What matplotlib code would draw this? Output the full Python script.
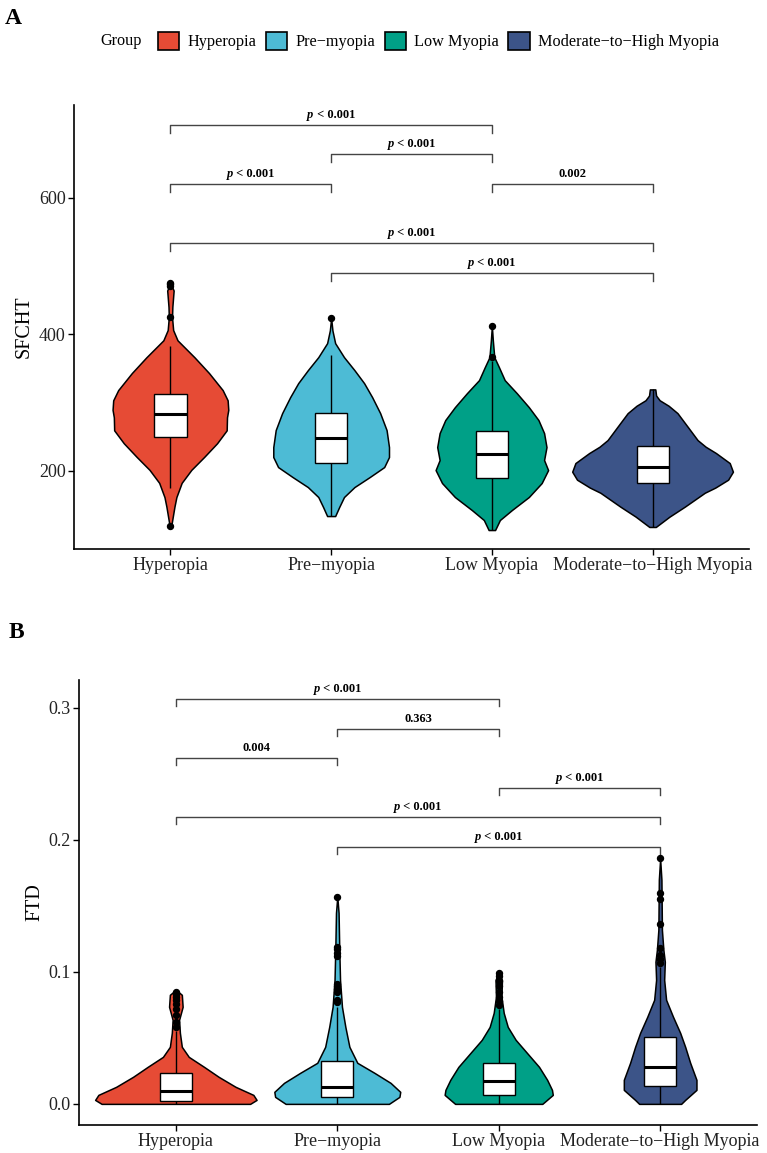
import matplotlib.pyplot as plt
from matplotlib.patches import Patch
from matplotlib.offsetbox import TextArea, HPacker, AnnotationBbox

plt.rcParams['font.family'] = ['Liberation Serif', 'DejaVu Serif']

groups = ['Hyperopia', 'Pre\u2212myopia', 'Low Myopia', 'Moderate\u2212to\u2212High Myopia']
colors = ['#E64B35', '#4DBBD5', '#00A087', '#3C5488']

# ---- panel A : SFCHT ----
# violin outlines: (value, half width in category units)
sfcht_violin_y = [
    [474.7, 464, 440, 425, 406, 391, 366, 343, 318, 303, 289, 278, 259, 240, 220, 201, 182, 161, 147, 123, 119],
    [423.4, 405.5, 386.8, 366.3, 347.2, 328.2, 307.7, 284.2, 259.3, 234.4, 219.8, 205.1, 190.5, 175.8, 161.2, 146.5, 133.3],
    [411.7, 391.2, 366.3, 351.6, 332.6, 313.5, 293, 274, 254.9, 234.4, 215.4, 200.7, 181.7, 161.2, 142.2, 127.5, 112.8],
    [319, 310, 303.1, 295, 284.2, 263.7, 244.7, 235, 225.6, 211, 198.3, 186.6, 175, 167.5, 147, 132.4, 117.3],
]
sfcht_violin_w = [
    [0.0, 0.02, 0.012, 0.01, 0.017, 0.044, 0.15, 0.24, 0.325, 0.356, 0.36, 0.352, 0.35, 0.29, 0.21, 0.13, 0.07, 0.037, 0.025, 0.008, 0.0],
    [0.0, 0.008, 0.025, 0.08, 0.145, 0.205, 0.255, 0.305, 0.345, 0.36, 0.36, 0.33, 0.24, 0.145, 0.08, 0.05, 0.025],
    [0.0, 0.006, 0.015, 0.044, 0.08, 0.155, 0.23, 0.29, 0.325, 0.34, 0.325, 0.35, 0.31, 0.23, 0.125, 0.05, 0.02],
    [0.017, 0.022, 0.044, 0.1, 0.155, 0.22, 0.28, 0.33, 0.395, 0.48, 0.5, 0.47, 0.39, 0.325, 0.2, 0.105, 0.02],
]
sfcht_q1 = [249.5, 210.5, 189, 182]
sfcht_med = [283, 248, 223.7, 205.6]
sfcht_q3 = [312, 284.7, 257.9, 236.3]
sfcht_lo = [174, 133.3, 112.8, 117.3]
sfcht_hi = [383, 369, 360, 319]
sfcht_out = [[475, 473, 471, 425, 119], [423], [411.7, 365.8], []]
sfcht_pairs = [(1, 3), (2, 3), (1, 2), (3, 4), (1, 4), (2, 4)]
sfcht_pos = [706, 663.7, 619.7, 619.7, 533, 489.3]
sfcht_lab = ['p < 0.001', 'p < 0.001', 'p < 0.001', '0.002', 'p < 0.001', 'p < 0.001']

# ---- panel B : FTD ----
ftd_violin_y = [
    [0.0864, 0.0826, 0.0735, 0.0636, 0.0538, 0.0432, 0.0356, 0.028, 0.0205, 0.0129, 0.0068, 0.003, 0.0],
    [0.1568, 0.1447, 0.1189, 0.0939, 0.0735, 0.0583, 0.0432, 0.0311, 0.0235, 0.0159, 0.0091, 0.0053, 0.0],
    [0.0995, 0.0939, 0.0811, 0.0689, 0.0583, 0.0485, 0.0386, 0.028, 0.0182, 0.0106, 0.0068, 0.0],
    [0.1856, 0.1697, 0.1318, 0.1167, 0.1076, 0.0939, 0.0788, 0.0659, 0.0538, 0.0432, 0.0311, 0.0182, 0.0106, 0.003, 0.0],
]
ftd_violin_w = [
    [0.0, 0.037, 0.042, 0.02, 0.025, 0.037, 0.08, 0.175, 0.265, 0.37, 0.48, 0.5, 0.46],
    [0.0, 0.008, 0.012, 0.017, 0.029, 0.05, 0.075, 0.124, 0.23, 0.33, 0.39, 0.385, 0.32],
    [0.0, 0.02, 0.017, 0.031, 0.056, 0.105, 0.175, 0.25, 0.3, 0.33, 0.335, 0.27],
    [0.0, 0.008, 0.011, 0.02, 0.029, 0.025, 0.037, 0.08, 0.124, 0.155, 0.186, 0.225, 0.225, 0.155, 0.13],
]
ftd_q1 = [0.0023, 0.0055, 0.0068, 0.0139]
ftd_med = [0.0098, 0.0131, 0.0177, 0.0283]
ftd_q3 = [0.0233, 0.0326, 0.0313, 0.0505]
ftd_lo = [0.0, 0.0, 0.0, 0.0]
ftd_hi = [0.055, 0.073, 0.072, 0.104]
ftd_out = [
    [0.085, 0.083, 0.081, 0.079, 0.076, 0.072, 0.067, 0.062, 0.058],
    [0.157, 0.119, 0.117, 0.114, 0.112, 0.091, 0.089, 0.087, 0.085, 0.079, 0.077],
    [0.099, 0.097, 0.093, 0.089, 0.085, 0.081, 0.078, 0.075],
    [0.186, 0.160, 0.155, 0.136, 0.118, 0.113, 0.110, 0.107],
]
ftd_pairs = [(1, 3), (2, 3), (1, 2), (3, 4), (1, 4), (2, 4)]
ftd_pos = [0.3068, 0.2841, 0.2621, 0.2394, 0.2174, 0.1947]
ftd_lab = ['p < 0.001', '0.363', '0.004', 'p < 0.001', 'p < 0.001', 'p < 0.001']


def bracket_label(ax, x, y, text):
    if text.startswith('p'):
        parts = [TextArea('p', textprops=dict(fontsize=9, fontweight='bold', fontstyle='italic')),
                 TextArea(text[1:], textprops=dict(fontsize=9, fontweight='bold'))]
    else:
        parts = [TextArea(text, textprops=dict(fontsize=9, fontweight='bold'))]
    box = HPacker(children=parts, align='baseline', pad=0, sep=0)
    ab = AnnotationBbox(box, (x, y), frameon=False, box_alignment=(0.5, 0),
                        xybox=(0, 3), boxcoords='offset points', pad=0)
    ax.add_artist(ab)


def draw_panel(ax, vy, vw, q1, med, q3, lo, hi, outs, pairs, pos, labs, tick_len):
    for i in range(4):
        x = i + 1
        left = [x - w for w in vw[i]]
        right = [x + w for w in vw[i]]
        ax.fill_betweenx(vy[i], left, right, facecolor=colors[i], edgecolor='black', lw=1.1, zorder=2)
        ax.vlines(x, lo[i], q1[i], color='black', lw=1.0, zorder=3)
        ax.vlines(x, q3[i], hi[i], color='black', lw=1.0, zorder=3)
        ax.bar(x, q3[i] - q1[i], bottom=q1[i], width=0.2, color='white', edgecolor='black', lw=1.0, zorder=4)
        ax.hlines(med[i], x - 0.1, x + 0.1, color='black', lw=2.2, zorder=5)
        if outs[i]:
            ax.plot([x] * len(outs[i]), outs[i], 'o', color='black', ms=4.3, zorder=6)
    for (a, b), y, t in zip(pairs, pos, labs):
        ax.plot([a, a, b, b], [y - tick_len, y, y, y - tick_len], color='#444444', lw=1.0, zorder=1)
        bracket_label(ax, (a + b) / 2, y, t)
    ax.set_xlim(0.4, 4.6)
    ax.set_xticks([1, 2, 3, 4])
    ax.set_xticklabels(groups)
    for s in ['top', 'right']:
        ax.spines[s].set_visible(False)
    for s in ['left', 'bottom']:
        ax.spines[s].set_linewidth(1.2)
    ax.tick_params(axis='both', length=4, width=1.0, labelsize=13, colors='black', pad=2)
    ax.tick_params(axis='x', labelcolor='#222222')
    ax.tick_params(axis='y', labelcolor='#222222')


fig = plt.figure(figsize=(7.67, 11.53), dpi=100)

axA = fig.add_axes([74 / 767, 1 - 549 / 1153, 675 / 767, 444 / 1153])
draw_panel(axA, sfcht_violin_y, sfcht_violin_w, sfcht_q1, sfcht_med, sfcht_q3, sfcht_lo, sfcht_hi,
           sfcht_out, sfcht_pairs, sfcht_pos, sfcht_lab, 11)
axA.set_ylim(85, 736)
axA.set_yticks([200, 400, 600])
axA.set_ylabel('SFCHT', fontsize=14.5, labelpad=4)

axB = fig.add_axes([79 / 767, 1 - 1125 / 1153, 678 / 767, 445 / 1153])
draw_panel(axB, ftd_violin_y, ftd_violin_w, ftd_q1, ftd_med, ftd_q3, ftd_lo, ftd_hi,
           ftd_out, ftd_pairs, ftd_pos, ftd_lab, 0.0058)
axB.set_ylim(-0.016, 0.321)
axB.set_yticks([0.0, 0.1, 0.2, 0.3])
axB.set_yticklabels(['0.0', '0.1', '0.2', '0.3'])
axB.set_ylabel('FTD', fontsize=14.5, labelpad=3)

# panel letters
fig.text(5 / 767, 1 - 19 / 1153, 'A', fontsize=17, fontweight='bold', va='center', ha='left')
fig.text(9 / 767, 1 - 633 / 1153, 'B', fontsize=17, fontweight='bold', va='center', ha='left')

# legend on top
fig.text(100 / 767, 1 - 41 / 1153, 'Group', fontsize=11.7, va='center', ha='left')
handles = [Patch(facecolor=c, edgecolor='black', lw=1.2) for c in colors]
fig.legend(handles, groups, loc='center left', bbox_to_anchor=(158 / 767, 1 - 41 / 1153), ncol=4,
           frameon=False, fontsize=11.7, handlelength=1.3, handleheight=1.4, handletextpad=0.5,
           columnspacing=0.6, borderpad=0, borderaxespad=0)

fig.savefig('out.png', dpi=100)
